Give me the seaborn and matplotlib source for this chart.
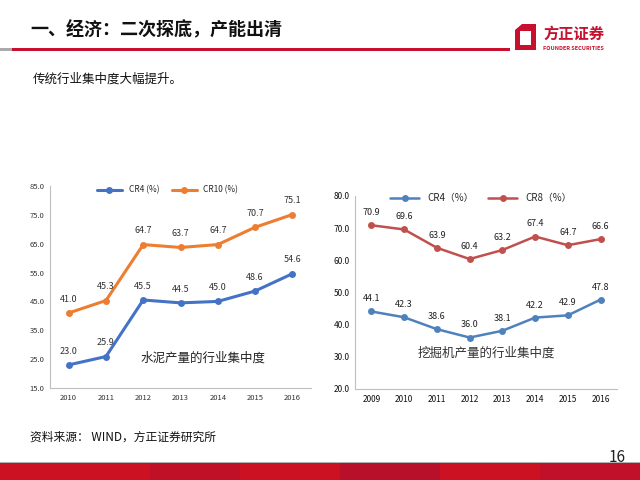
import numpy as np
import pandas as pd
import matplotlib
matplotlib.use('Agg')
import matplotlib.pyplot as plt
import matplotlib.patches as mpatches
import seaborn as sns

sns.set_theme(style='white')
plt.rcParams['font.family'] = ['Noto Sans CJK SC', 'DejaVu Sans']

# 水泥 data
cement_years = ['2010', '2011', '2012', '2013', '2014', '2015', '2016']
cement_cr4 = [23.0, 25.9, 45.5, 44.5, 45.0, 48.6, 54.6]
cement_cr10 = [41.0, 45.3, 64.7, 63.7, 64.7, 70.7, 75.1]

# 挖掘机 data
exc_years = ['2009', '2010', '2011', '2012', '2013', '2014', '2015', '2016']
exc_cr4 = [44.1, 42.3, 38.6, 36.0, 38.1, 42.2, 42.9, 47.8]
exc_cr8 = [70.9, 69.6, 63.9, 60.4, 63.2, 67.4, 64.7, 66.6]

cement_df = pd.DataFrame({'year': cement_years * 2,
                          'value': cement_cr4 + cement_cr10,
                          'series': ['CR4 (%)'] * 7 + ['CR10 (%)'] * 7})
exc_df = pd.DataFrame({'year': exc_years * 2,
                       'value': exc_cr4 + exc_cr8,
                       'series': ['CR4（%）'] * 8 + ['CR8（%）'] * 8})

fig = plt.figure(figsize=(6.4, 4.8), dpi=100)

# ---- header ----
fig.text(30/640, 1-30/480, '一、经济：二次探底，产能出清', fontsize=13, fontweight='bold',
         va='center', ha='left', color='#111111')
fig.add_artist(mpatches.Rectangle((0, 1-51/480), 12/640, 3/480, transform=fig.transFigure,
                                  color='#aaaaaa', lw=0))
fig.add_artist(mpatches.Rectangle((12/640, 1-51/480), 498/640, 3/480, transform=fig.transFigure,
                                  color='#C8102E', lw=0))
# logo
logo = mpatches.Polygon([(515/640, 1-30/480), (522/640, 1-24/480), (536/640, 1-24/480),
                         (536/640, 1-50/480), (515/640, 1-50/480)],
                        closed=True, transform=fig.transFigure, color='#C8102E', lw=0)
fig.add_artist(logo)
fig.add_artist(mpatches.Rectangle((520/640, 1-45/480), 11/640, 14/480, transform=fig.transFigure,
                                  color='white', lw=0))
fig.text(543/640, 1-34/480, '方正证券', fontsize=11, fontweight='bold', color='#C8102E',
         va='center', ha='left')
fig.text(543/640, 1-48/480, 'FOUNDER SECURITIES', fontsize=4, fontweight='bold',
         color='#C8102E', va='center', ha='left')

fig.text(33/640, 1-79/480, '传统行业集中度大幅提升。', fontsize=9, va='center', ha='left',
         color='#111111')

# ---- left chart ----
ax1 = fig.add_axes([50/640, 1-388/480, 261/640, 202/480])
sns.lineplot(data=cement_df, x='year', y='value', hue='series',
             palette=['#4472C4', '#ED7D31'], marker='o', markersize=5,
             markeredgewidth=0, linewidth=2.2, ax=ax1)
ax1.set_xlim(-0.5, len(cement_years) - 0.5)
ax1.set_ylim(15, 85)
ax1.set_yticks(np.arange(15, 86, 10))
ax1.set_yticklabels(['%.1f' % v for v in np.arange(15, 86, 10)])
for i, (a, b) in enumerate(zip(cement_cr4, cement_cr10)):
    ax1.text(i, a + 3.2, '%.1f' % a, ha='center', va='bottom', fontsize=6.5, color='#333333')
    ax1.text(i, b + 3.2, '%.1f' % b, ha='center', va='bottom', fontsize=6.5, color='#333333')
ax1.text(3.6, 25.5, '水泥产量的行业集中度', fontsize=9, ha='center', va='center', color='#222222')
ax1.legend(loc='upper center', bbox_to_anchor=(0.45, 1.04), ncol=2, frameon=False,
           fontsize=6, handlelength=3, columnspacing=1.5)
ax1.set_xlabel('')
ax1.set_ylabel('')
ax1.tick_params(axis='both', labelsize=5.5, colors='#333333', length=0, pad=4)
for s in ['top', 'right']:
    ax1.spines[s].set_visible(False)
for s in ['left', 'bottom']:
    ax1.spines[s].set_color('#bfbfbf')
    ax1.spines[s].set_linewidth(0.8)

# ---- right chart ----
ax2 = fig.add_axes([355/640, 1-389/480, 262/640, 193/480])
sns.lineplot(data=exc_df, x='year', y='value', hue='series',
             palette=['#4F81BD', '#C0504D'], marker='o', markersize=5,
             markeredgewidth=0, linewidth=1.8, ax=ax2)
ax2.set_xlim(-0.5, len(exc_years) - 0.5)
ax2.set_ylim(20, 80)
ax2.set_yticks(np.arange(20, 81, 10))
ax2.set_yticklabels(['%.1f' % v for v in np.arange(20, 81, 10)])
for i, (a, b) in enumerate(zip(exc_cr4, exc_cr8)):
    ax2.text(i, a + 2.5, '%.1f' % a, ha='center', va='bottom', fontsize=6.5, color='#222222')
    ax2.text(i, b + 2.5, '%.1f' % b, ha='center', va='bottom', fontsize=6.5, color='#222222')
ax2.text(3.5, 31, '挖掘机产量的行业集中度', fontsize=9, ha='center', va='center', color='#333333')
ax2.legend(loc='upper center', bbox_to_anchor=(0.48, 1.06), ncol=2, frameon=False,
           fontsize=7, handlelength=3, columnspacing=1.5)
ax2.set_xlabel('')
ax2.set_ylabel('')
ax2.tick_params(axis='both', labelsize=6, colors='#111111', length=0, pad=4)
for s in ['top', 'right']:
    ax2.spines[s].set_visible(False)
for s in ['left', 'bottom']:
    ax2.spines[s].set_color('#bfbfbf')
    ax2.spines[s].set_linewidth(0.8)

# ---- footer ----
fig.text(30/640, 1-437/480, '资料来源： WIND，方正证券研究所', fontsize=8.5, va='center', ha='left',
         color='#111111')
fig.text(626/640, 1-457/480, '16', fontsize=11, va='center', ha='right', color='#222222')
fig.add_artist(mpatches.Rectangle((0, 0), 1, 17/480, transform=fig.transFigure,
                                  color='#CC1122', lw=0))
for x0, w, c in [(150, 90, '#C01028'), (340, 100, '#B80F2A'), (540, 100, '#C0102A')]:
    fig.add_artist(mpatches.Rectangle((x0/640, 0), w/640, 17/480, transform=fig.transFigure,
                                      color=c, lw=0))
fig.add_artist(mpatches.Rectangle((0, 17/480), 1, 1/480, transform=fig.transFigure,
                                  color='#b0b0b0', lw=0))

fig.savefig('out.png', dpi=100)
